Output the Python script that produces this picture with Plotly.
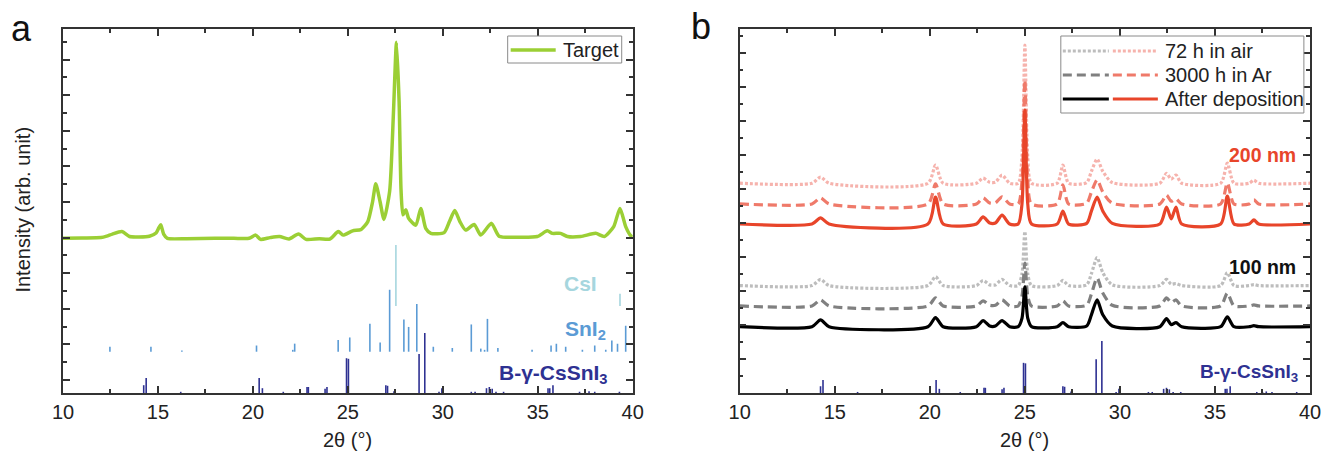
import plotly.graph_objects as go

# ---------------- data ----------------
# Panel a: Target XRD pattern (2theta, intensity arb.)
target_x = [10.0, 11.0, 12.0, 12.3, 12.6, 13.1, 13.5, 14.0, 14.55, 14.9, 15.05, 15.15, 15.3, 15.5,
            16.5, 18.0, 19.0, 19.8, 20.15, 20.4, 20.9, 21.4, 21.9, 22.4, 22.8, 23.5, 24.05, 24.5,
            24.75, 25.25, 25.7, 26.05, 26.3, 26.47, 26.7, 26.9, 27.2, 27.4, 27.56, 27.7, 27.8,
            27.9, 28.05, 28.2, 28.58, 28.84, 29.1, 29.37, 30.07, 30.35, 30.63, 30.9, 31.2, 31.65,
            32.0, 32.56, 32.96, 33.93, 34.98, 35.5, 35.77, 36.2, 36.56, 37.26, 38.05, 38.5, 39.0,
            39.33, 39.63, 39.9, 40.0]
target_y = [3.98, 3.99, 4.00, 4.04, 4.10, 4.17, 4.03, 4.02, 4.04, 4.13, 4.28, 4.36, 4.10, 3.98,
            3.97, 3.98, 3.98, 3.98, 4.07, 3.95, 4.00, 4.03, 3.96, 4.10, 3.95, 3.97, 3.96, 4.17,
            4.07, 4.19, 4.23, 4.45, 5.00, 5.51, 5.00, 4.51, 5.30, 7.50, 9.49, 7.80, 5.34,
            4.64, 4.78, 4.54, 4.35, 4.82, 4.26, 4.12, 4.14, 4.45, 4.76, 4.45, 4.21, 4.37,
            4.07, 4.40, 4.04, 4.01, 4.03, 4.19, 4.12, 4.12, 4.03, 4.03, 4.12, 4.03, 4.31,
            4.82, 4.31, 4.05, 4.02]

# Reference stick patterns (position, relative intensity %)
csi_pos = [27.53, 39.33]
csi_rel = [100, 20]

sni2_pos = [12.47, 14.63, 16.26, 20.19, 22.1, 22.2, 24.49, 25.1, 26.16, 26.7, 27.2, 27.95, 28.2,
            28.63, 29.5, 30.5, 31.5, 32.0, 32.2, 32.35, 32.9, 34.7, 35.7, 35.98, 36.47, 37.35,
            38.0, 38.58, 38.9, 39.2, 39.63]
sni2_rel = [8, 8, 2, 10, 3, 13, 19, 23, 45, 15, 100, 52, 40,
            77, 8, 6, 44, 5, 3, 53, 6, 3, 10, 13, 8, 3,
            10, 3, 18, 13, 42]

cssni3_pos = [14.25, 14.38, 16.2, 20.33, 20.5, 21.6, 22.85, 22.92, 23.8, 23.9, 24.93, 25.03,
              27.0, 27.09, 27.43, 28.75, 29.05, 29.8, 29.95, 31.5, 31.7, 32.3, 32.45, 32.6,
              32.8, 33.2, 35.54, 35.63, 35.8, 37.2, 37.5, 37.7, 38.0, 39.3]
cssni3_rel = [13, 25, 2, 25, 8, 2, 10, 10, 7, 10, 58, 57,
              13, 12, 3, 65, 100, 2, 8, 2, 2, 8, 10, 7,
              2, 2, 8, 8, 13, 2, 2, 3, 2, 2]

# Panel b: films (2theta grid and intensity above each curve's baseline)
b_x = [10.0, 13.8, 14.25, 14.7, 19.9, 20.3, 20.7, 22.45, 22.8, 23.15, 23.45, 23.8, 24.2, 24.65,
       24.85, 25.0, 25.15, 25.35, 26.7, 27.0, 27.3, 28.25, 28.5, 28.8, 29.1, 29.6, 32.1, 32.45,
       32.7, 32.95, 33.25, 35.3, 35.65, 36.0, 36.8, 37.05, 37.3, 40.0]
nm100_dep = [0, 0, 0.20, 0, 0, 0.27, 0, 0, 0.18, 0.02, 0.02, 0.18, 0, 0, 0.25, 1.17, 0.25, 0, 0,
             0.12, 0, 0.02, 0.35, 0.79, 0.35, 0.02, 0, 0.24, 0.06, 0.12, 0, 0, 0.29, 0, 0, 0.03, 0, 0]
nm100_ar = [0, 0, 0.18, 0, 0, 0.24, 0, 0, 0.15, 0.02, 0.02, 0.18, 0, 0, 0.30, 1.26, 0.30, 0, 0,
            0.15, 0, 0.02, 0.35, 0.82, 0.38, 0.02, 0, 0.24, 0.10, 0.18, 0, 0, 0.38, 0, 0, 0.03, 0, 0]
nm100_air = [0, 0, 0.18, 0, 0, 0.26, 0, 0, 0.15, 0.02, 0.02, 0.18, 0, 0, 0.35, 1.59, 0.35, 0, 0,
             0.15, 0, 0.02, 0.35, 0.82, 0.38, 0.02, 0, 0.18, 0.04, 0.06, 0, 0, 0.38, 0, 0, 0.03, 0, 0]
nm200_dep = [0, 0, 0.18, 0, 0, 0.79, 0, 0, 0.21, 0.03, 0.03, 0.26, 0, 0, 0.60, 3.35, 0.60, 0, 0,
             0.38, 0, 0.02, 0.38, 0.79, 0.38, 0.02, 0, 0.50, 0.15, 0.50, 0, 0, 0.82, 0, 0, 0.12, 0, 0]
nm200_ar = [0, 0, 0.18, 0, 0, 0.59, 0, 0, 0.18, 0.03, 0.03, 0.21, 0, 0, 0.70, 3.65, 0.70, 0, 0,
            0.56, 0, 0.02, 0.35, 0.71, 0.35, 0.02, 0, 0.26, 0.08, 0.15, 0, 0, 0.62, 0, 0, 0.12, 0, 0]
nm200_air = [0, 0, 0.18, 0, 0, 0.53, 0, 0, 0.15, 0.03, 0.03, 0.24, 0, 0, 0.80, 4.06, 0.80, 0, 0,
             0.53, 0, 0.02, 0.35, 0.71, 0.35, 0.02, 0, 0.29, 0.12, 0.24, 0, 0, 0.59, 0, 0, 0.09, 0, 0]
offsets = {"100_dep": 1.95, "100_ar": 2.56, "100_air": 3.16,
           "200_dep": 4.97, "200_ar": 5.56, "200_air": 6.17}

legend_labels = ["72 h in air", "3000 h in Ar", "After deposition"]

# ---------------- styling ----------------
FONT = "Liberation Sans, Arial, sans-serif"
KX = 1333 / 1321  # horizontal correction for the photographed page
W, H = 1333, 455
L, R, T, B = round(62 * KX), round(1309 * KX), 29, 393
GREEN = "#9bcf35"
CSI_C = "#a6d6de"
SNI2_C = "#5b9bd5"
CSSNI3_C = "#2e3192"
RED = "#e8452a"
RED_DASH = "#ef7a6a"
RED_DOT = "#f6b3ad"
GREY_DASH = "#808080"
GREY_DOT = "#bdbdbd"
DOT = "3px,2px"
DASH = "9px,5px"


def px(xp, yp):
    """picture pixel -> paper coordinate"""
    return (xp * KX - L) / (R - L), (B - yp) / (B - T)


def sticks(pos, rel, base, scale):
    xs, ys = [], []
    for p, r in zip(pos, rel):
        xs += [p, p, None]
        ys += [base, base + r / 100.0 * scale, None]
    return xs, ys


fig = go.Figure()

# ---- panel a ----
for pos, rel, base, scale, col in [
    (csi_pos, csi_rel, 2.08, 1.71, CSI_C),
    (sni2_pos, sni2_rel, 0.795, 1.74, SNI2_C),
    (cssni3_pos, cssni3_rel, -0.365, 1.685, CSSNI3_C),
]:
    xs, ys = sticks(pos, rel, base, scale)
    fig.add_trace(go.Scatter(x=xs, y=ys, mode="lines", line=dict(color=col, width=1.6),
                             xaxis="x", yaxis="y", showlegend=False, hoverinfo="skip"))

fig.add_trace(go.Scatter(x=target_x, y=target_y, mode="lines",
                         line=dict(color=GREEN, width=3.5, shape="spline", smoothing=0.6),
                         xaxis="x", yaxis="y", showlegend=False, name="Target"))

# ---- panel b ----
xs, ys = sticks(cssni3_pos, cssni3_rel, 0.0, 1.53)
fig.add_trace(go.Scatter(x=xs, y=ys, mode="lines", line=dict(color=CSSNI3_C, width=1.6),
                         xaxis="x2", yaxis="y2", showlegend=False, hoverinfo="skip"))

curves = [
    (nm100_air, offsets["100_air"], GREY_DOT, DOT),
    (nm100_ar, offsets["100_ar"], GREY_DASH, DASH),
    (nm100_dep, offsets["100_dep"], "#000000", "solid"),
    (nm200_air, offsets["200_air"], RED_DOT, DOT),
    (nm200_ar, offsets["200_ar"], RED_DASH, DASH),
    (nm200_dep, offsets["200_dep"], RED, "solid"),
]
for vals, off, col, dash in curves:
    fig.add_trace(go.Scatter(x=b_x, y=[off + v for v in vals], mode="lines",
                             line=dict(color=col, width=3.2, dash=dash, shape="spline", smoothing=0.7),
                             xaxis="x2", yaxis="y2", showlegend=False))

# ---------------- axes ----------------
axcol = "#333333"
xcommon = dict(range=[10, 40], tick0=10, dtick=5, showline=True, linecolor=axcol, linewidth=1.5,
               mirror="allticks", ticks="inside", ticklen=7, tickwidth=1.5, tickcolor=axcol,
               minor=dict(ticks="inside", dtick=2.5, ticklen=4, tickwidth=1.5, tickcolor=axcol),
               showgrid=False, zeroline=False, tickfont=dict(family=FONT, size=20, color="#222"))
ycommon = dict(tick0=0, dtick=1, showline=True, linecolor=axcol, linewidth=1.5,
               mirror="allticks", ticks="inside", ticklen=7, tickwidth=1.5, tickcolor=axcol,
               minor=dict(ticks="inside", dtick=0.5, ticklen=4, tickwidth=1.5, tickcolor=axcol),
               showgrid=False, zeroline=False, showticklabels=False)

xa0, _ = px(632, 0)
xb0, _ = px(739, 0)
fig.update_layout(
    width=W, height=H,
    margin=dict(l=L, r=W - R, t=T, b=H - B, pad=0),
    paper_bgcolor="white", plot_bgcolor="white",
    showlegend=False,
    font=dict(family=FONT, size=20, color="#222"),
    xaxis=dict(domain=[0, xa0], anchor="y", **xcommon),
    yaxis=dict(domain=[0, 1], anchor="x", range=[-0.365, 9.86], **ycommon),
    xaxis2=dict(domain=[xb0, 1], anchor="y2", **xcommon),
    yaxis2=dict(domain=[0, 1], anchor="x2", range=[0, 10.706], **ycommon),
)

# ---------------- annotations ----------------
ann = []


def text(xp, yp, s, size=20, color="#222", xanchor="center", angle=0, bold=False):
    x, y = px(xp, yp)
    ann.append(dict(x=x, y=y, xref="paper", yref="paper", text=("<b>%s</b>" % s) if bold else s,
                    showarrow=False, xanchor=xanchor, yanchor="middle", textangle=angle,
                    font=dict(family=FONT, size=size, color=color)))


text(21, 28, "a", size=36, color="#111")
text(700, 26, "b", size=36, color="#111")
text(347, 440, "2θ (°)", size=20)
text(1024, 440, "2θ (°)", size=20)
text(22, 210, "Intensity (arb. unit)", size=20, angle=-90)

text(580, 283, "CsI", size=21, color=CSI_C, bold=True)
text(585, 330, "SnI<sub>2</sub>", size=21, color=SNI2_C, bold=True)
text(553, 374, "B-γ-CsSnI<sub>3</sub>", size=21, color=CSSNI3_C, bold=True)
text(1248, 373, "B-γ-CsSnI<sub>3</sub>", size=19, color=CSSNI3_C, bold=True)
text(1262, 155, "200 nm", size=19.5, color=RED, bold=True)
text(1262, 267, "100 nm", size=19.5, color="#111", bold=True)

# legends (drawn manually: each entry shows two line samples)
shapes = []


def box(x0, y0, x1, y1):
    a0, b0 = px(x0, y1)
    a1, b1 = px(x1, y0)
    shapes.append(dict(type="rect", xref="paper", yref="paper", x0=a0, y0=b0, x1=a1, y1=b1,
                       line=dict(color="#8a8a8a", width=1), fillcolor="white", layer="above"))


def seg(x0, x1, yp, color, dash, width=3.2):
    a0, b = px(x0, yp)
    a1, _ = px(x1, yp)
    shapes.append(dict(type="line", xref="paper", yref="paper", x0=a0, y0=b, x1=a1, y1=b,
                       line=dict(color=color, width=width, dash=dash), layer="above"))


box(507, 36, 621, 63)
seg(510, 555, 50, GREEN, "solid", 3.5)
text(560, 50, "Target", size=20, xanchor="left")

box(1060, 36, 1303, 113)
rows = [(51, GREY_DOT, RED_DOT, DOT), (75, GREY_DASH, RED_DASH, DASH), (99, "#000000", RED, "solid")]
for (yy, c1, c2, d), lab in zip(rows, legend_labels):
    seg(1062, 1108, yy, c1, d)
    seg(1112, 1157, yy, c2, d)
    text(1162, yy, lab, size=20, xanchor="left")

fig.update_layout(annotations=ann, shapes=shapes)
# remove the default page margin so the figure sits at the window's top-left corner
fig.write_html("out.html",
               config={"displayModeBar": False},
               post_script="document.body.style.margin='0';document.body.style.overflow='hidden';")
